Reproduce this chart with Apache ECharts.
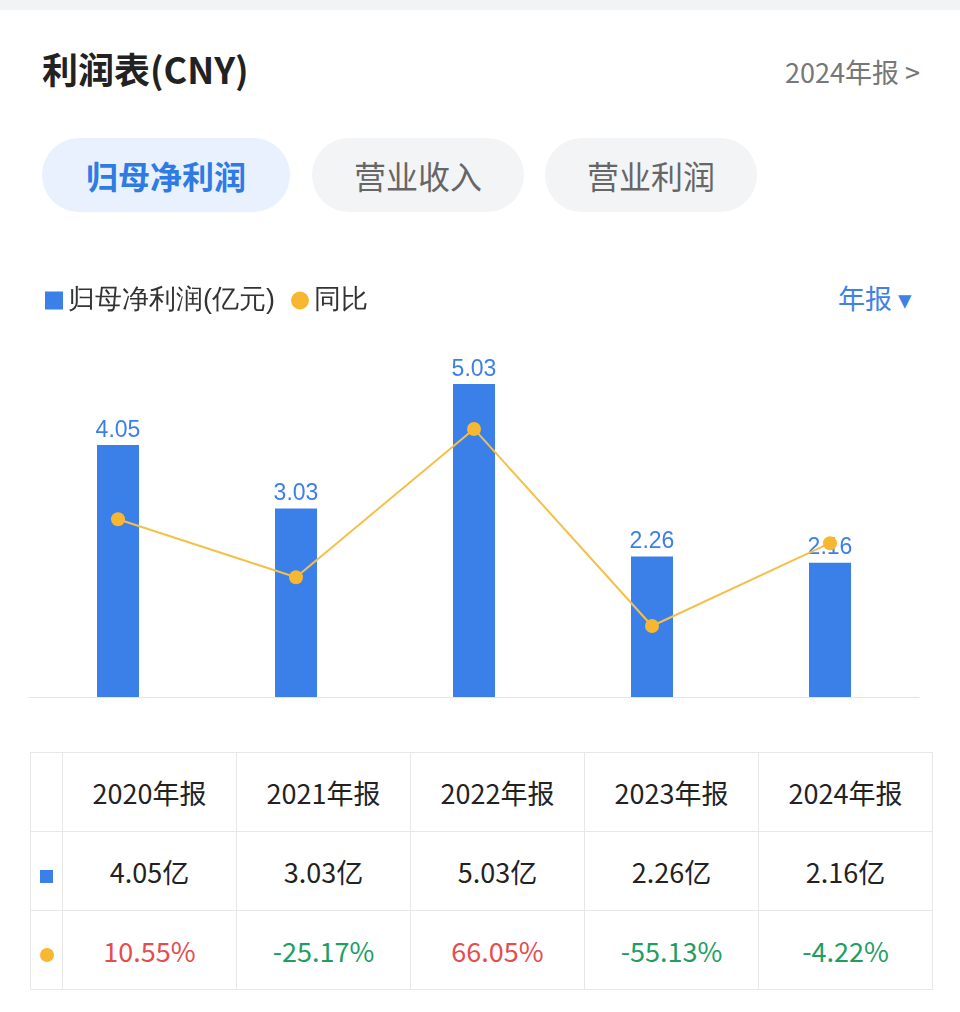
<!DOCTYPE html>
<html><head><meta charset="utf-8">
<script src="https://cdn.jsdelivr.net/npm/echarts@6/dist/echarts.min.js"></script>
<style>
body{margin:0;width:960px;height:1012px;background:#fff;font-family:"Noto Sans CJK SC","Noto Sans",sans-serif;position:relative;overflow:hidden}
.topband{position:absolute;left:0;top:0;width:960px;height:10px;background:#f2f3f5}
.title{position:absolute;left:42px;top:42px;font-size:36px;font-weight:bold;color:#222}
.period{position:absolute;right:40px;top:52px;font-size:27px;color:#777}
.tab{position:absolute;top:138px;height:74px;line-height:74px;border-radius:37px;background:#f3f4f6;color:#666;font-size:32px;text-align:center}
.tab.on{background:#e8f1fd;color:#2f7be5;font-weight:bold}
#chart{position:absolute;left:0;top:270px;width:960px;height:450px}
.sel{position:absolute;right:48px;top:278px;font-size:27px;color:#3f82e6}
table{position:absolute;left:30px;top:752px;border-collapse:collapse;font-size:27px;color:#222}
td{border:1px solid #e8e8e8;text-align:center;height:78px;padding:0}
</style></head>
<body>
<div class="topband"></div>
<div class="title">利润表(CNY)</div>
<div class="period">2024年报 &gt;</div>
<div class="tab on" style="left:42px;width:248px">归母净利润</div>
<div class="tab" style="left:312px;width:212px">营业收入</div>
<div class="tab" style="left:545px;width:212px">营业利润</div>
<div class="sel">年报 ▾</div>
<div id="chart"></div>
<table id="tbl"></table>
<script>
var years = ['2020年报', '2021年报', '2022年报', '2023年报', '2024年报'];
var profit = [4.05, 3.03, 5.03, 2.26, 2.16];
var yoy = [10.55, -25.17, 66.05, -55.13, -4.22];

var myChart = echarts.init(document.getElementById('chart'));
var option = {
    animation: false,
    legend: {
        left: 40, top: 12, itemGap: 16,
        textStyle: {fontSize: 27, color: '#333'},
        data: [{name: '归母净利润(亿元)', icon: 'rect'}, {name: '同比', icon: 'circle'}],
        itemWidth: 18, itemHeight: 18
    },
    grid: {left: 29, right: 41, top: 60, bottom: 23},
    xAxis: {
        type: 'category', data: years,
        axisLine: {lineStyle: {color: '#e5e5e5'}},
        axisTick: {show: false}, axisLabel: {show: false}
    },
    yAxis: [
        {type: 'value', min: 0, max: 5.9, show: false},
        {type: 'value', min: -98.8, max: 126.9, show: false}
    ],
    series: [{
        name: '归母净利润(亿元)', type: 'bar', data: profit, barWidth: 42,
        itemStyle: {color: '#3b7fe9'},
        label: {show: true, position: 'top', color: '#3b7fe9', fontSize: 23, distance: 3}
    }, {
        name: '同比', type: 'line', yAxisIndex: 1, data: yoy,
        symbol: 'circle', symbolSize: 14,
        itemStyle: {color: '#f7b731'}, lineStyle: {color: '#f5c04a', width: 2}
    }]
};
myChart.setOption(option);

var html = '<tr><td style="width:31px"></td>';
years.forEach(function (y) { html += '<td style="width:173px">' + y + '</td>'; });
html += '</tr><tr><td><span style="display:inline-block;width:13px;height:13px;background:#3b7fe9"></span></td>';
profit.forEach(function (v) { html += '<td>' + v.toFixed(2) + '亿</td>'; });
html += '</tr><tr><td><span style="display:inline-block;width:14px;height:14px;border-radius:7px;background:#f7b731"></span></td>';
yoy.forEach(function (v) {
    html += '<td style="color:' + (v >= 0 ? '#e54d4d' : '#1f9e63') + '">' + v.toFixed(2) + '%</td>';
});
html += '</tr>';
document.getElementById('tbl').innerHTML = html;
</script>
</body></html>
